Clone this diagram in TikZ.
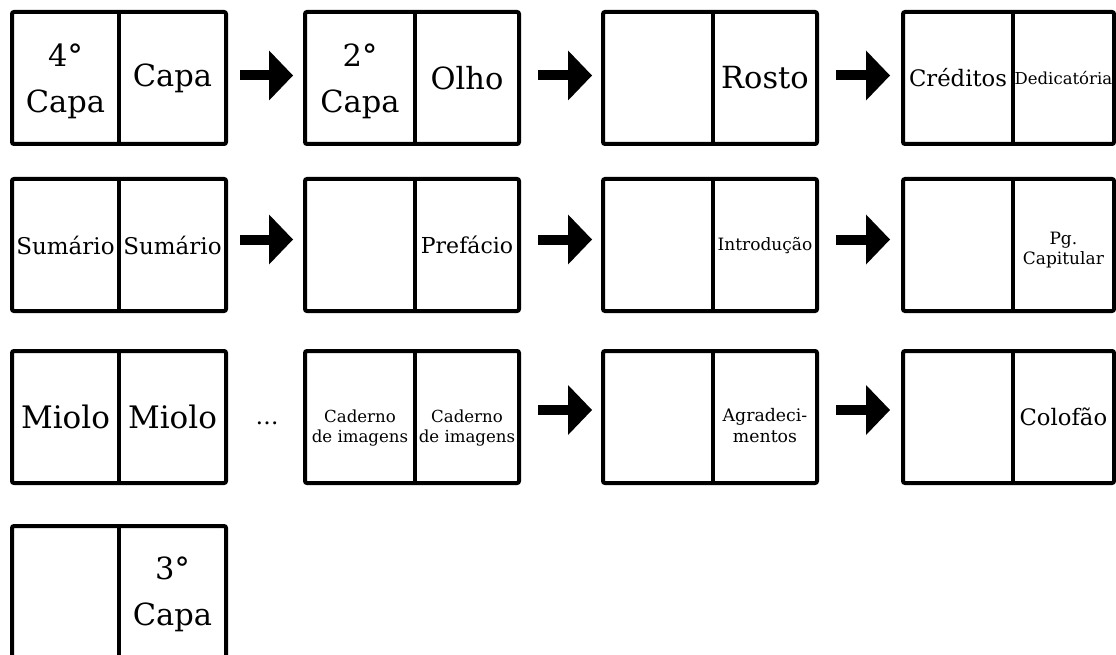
\documentclass[tikz,border=0pt]{standalone}
\usepackage{fontspec}
\setmainfont{DejaVu Serif}
\usetikzlibrary{arrows.meta}
\begin{document}
\begin{tikzpicture}[x=1pt,y=-1pt,
  spread/.style={draw, line width=4pt, rounded corners=2pt, minimum height=132pt, minimum width=214pt, inner sep=0pt, outer sep=0pt},
  divider/.style={line width=4pt},
  big/.style={font=\fontsize{30.5}{46}\selectfont, align=center, inner sep=0pt},
  mid/.style={font=\fontsize{22.7}{28}\selectfont, align=center, inner sep=0pt},
  small/.style={font=\fontsize{16.6}{20.5}\selectfont, align=center, inner sep=0pt},
  blockarrow/.style={line width=10pt, -{Triangle[length=24pt,width=50pt,line width=0pt]}}]
\useasboundingbox (0,0) rectangle (1116,655);
% divider x positions
\coordinate (d1) at (119,0);
\coordinate (d2) at (414.7,0);
\coordinate (d3) at (712.7,0);
\coordinate (d4) at (1012.7,0);
% spreads
\node[spread] (s11) at (119,78) {};
\node[spread] (s12) at (412,78) {};
\node[spread] (s13) at (710,78) {};
\node[spread, minimum width=211pt] (s14) at (1008.5,78) {};
\node[spread] (s21) at (119,245) {};
\node[spread] (s22) at (412,245) {};
\node[spread] (s23) at (710,245) {};
\node[spread, minimum width=211pt] (s24) at (1008.5,245) {};
\node[spread] (s31) at (119,417) {};
\node[spread] (s32) at (412,417) {};
\node[spread] (s33) at (710,417) {};
\node[spread, minimum width=211pt] (s34) at (1008.5,417) {};
\node[spread] (s41) at (119,592) {};
% dividers
\foreach \r in {1,2,3}{
  \draw[divider] (s\r1.north -| d1) -- (s\r1.south -| d1);
  \draw[divider] (s\r2.north -| d2) -- (s\r2.south -| d2);
  \draw[divider] (s\r3.north -| d3) -- (s\r3.south -| d3);
  \draw[divider] (s\r4.north -| d4) -- (s\r4.south -| d4);
}
\draw[divider] (s41.north -| d1) -- (s41.south -| d1);
% row 1 texts
\node[big] (t11a) at (65.5,81) {4°\\Capa};
\node[big] (t11b) at (172.5,78) {Capa};
\node[big] (t12a) at (360,81) {2°\\Capa};
\node[big] (t12b) at (467,78) {Olho};
\node[big] (t13b) at (765,78) {Rosto};
\node[mid] (t14a) at (958,78) {Créditos};
\node[small, font=\fontsize{16.5}{20}\selectfont] (t14b) at (1063.4,78) {Dedicatória};
% row 2 texts
\node[mid, font=\fontsize{23}{28}\selectfont] (t21a) at (65.5,245) {Sumário};
\node[mid, font=\fontsize{23}{28}\selectfont] (t21b) at (172.5,245) {Sumário};
\node[mid, font=\fontsize{22}{28}\selectfont] (t22b) at (467,245) {Prefácio};
\node[small, font=\fontsize{17}{20}\selectfont] (t23b) at (765,246) {Introdução};
\node[small, font=\fontsize{17}{20}\selectfont] (t24b) at (1063.4,250) {Pg.\\Capitular};
% row 3 texts
\node[big, font=\fontsize{31}{46}\selectfont] (t31a) at (65.5,417) {Miolo};
\node[big, font=\fontsize{31}{46}\selectfont] (t31b) at (172.5,417) {Miolo};
\node[small, font=\fontsize{23}{20}\selectfont] (dots) at (267,423) {…};
\node[small] (t32a) at (360,428) {Caderno\\de imagens};
\node[small] (t32b) at (467,428) {Caderno\\de imagens};
\node[small, font=\fontsize{17.3}{21}\selectfont] (t33b) at (765,426) {Agradeci-\\mentos};
\node[mid] (t34b) at (1063.4,417) {Colofão};
% row 4 text
\node[big] (t41b) at (172.5,594) {3°\\Capa};
% arrows
\draw[blockarrow, shorten <=14pt, shorten >=12pt] ([yshift=2.5pt]s11.east) -- ([yshift=2.5pt]s12.west);
\draw[blockarrow, shorten <=19pt, shorten >=11pt] ([yshift=2.5pt]s12.east) -- ([yshift=2.5pt]s13.west);
\draw[blockarrow, shorten <=19pt, shorten >=13pt] ([yshift=2.5pt]s13.east) -- ([yshift=2.5pt]s14.west);
\draw[blockarrow, shorten <=14pt, shorten >=12pt] ([yshift=5.5pt]s21.east) -- ([yshift=5.5pt]s22.west);
\draw[blockarrow, shorten <=19pt, shorten >=11pt] ([yshift=5.5pt]s22.east) -- ([yshift=5.5pt]s23.west);
\draw[blockarrow, shorten <=19pt, shorten >=13pt] ([yshift=5.5pt]s23.east) -- ([yshift=5.5pt]s24.west);
\draw[blockarrow, shorten <=19pt, shorten >=11pt] ([yshift=7pt]s32.east) -- ([yshift=7pt]s33.west);
\draw[blockarrow, shorten <=19pt, shorten >=13pt] ([yshift=7pt]s33.east) -- ([yshift=7pt]s34.west);
\end{tikzpicture}
\end{document}
